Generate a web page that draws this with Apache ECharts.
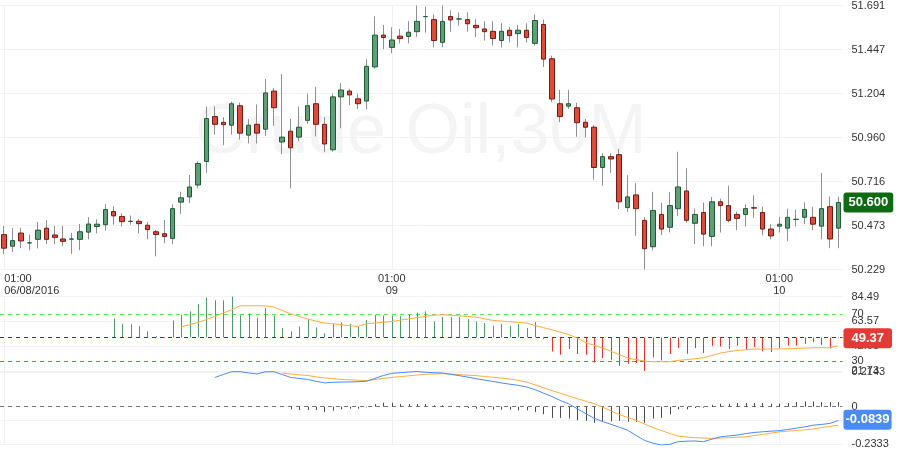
<!DOCTYPE html>
<html><head><meta charset="utf-8">
<script src="https://cdn.jsdelivr.net/npm/echarts@6/dist/echarts.min.js"></script>
<style>html,body{margin:0;padding:0;background:#fff}#c{width:900px;height:451px}</style>
</head><body><div id="c"></div>
<script>
// ---- categories (30-minute bars, 01:00 .. 23:30 each day) ----
const dayLabels = ['06/08/2016', '09', '10'];
const dayCounts = [46, 46, 8];
const catTime = [], catDay = [];
dayLabels.forEach((d, di) => {
  for (let k = 0; k < dayCounts[di]; k++) {
    const h = 1 + Math.floor(k / 2);
    catTime.push(String(h).padStart(2, '0') + ':' + (k % 2 ? '30' : '00'));
    catDay.push(d);
  }
});
const categories = catTime.map((t, i) => catDay[i] + ' ' + t);

// ---- price candles: [open, close, low, high] ----
const candles = [
[50.422,50.347,50.313,50.470],[50.358,50.389,50.326,50.458],[50.431,50.387,50.347,50.460],[50.376,50.377,50.336,50.422],
[50.396,50.447,50.346,50.492],[50.458,50.396,50.369,50.503],[50.420,50.407,50.369,50.470],[50.398,50.385,50.358,50.470],
[50.397,50.398,50.315,50.432],[50.396,50.438,50.336,50.481],[50.436,50.481,50.396,50.519],[50.467,50.480,50.429,50.507],
[50.477,50.561,50.445,50.590],[50.550,50.526,50.477,50.579],[50.523,50.494,50.467,50.541],[50.495,50.496,50.477,50.528],
[50.496,50.483,50.429,50.508],[50.474,50.450,50.396,50.492],[50.438,50.423,50.302,50.449],[50.427,50.412,50.374,50.503],
[50.401,50.566,50.369,50.590],[50.602,50.626,50.537,50.660],[50.631,50.686,50.597,50.752],[50.697,50.816,50.678,50.828],
[50.827,51.065,50.765,51.132],[51.076,51.033,50.976,51.132],[51.044,51.031,50.917,51.073],[51.028,51.147,50.976,51.159],
[51.136,50.984,50.949,51.154],[50.973,51.028,50.928,51.062],[51.033,50.984,50.928,51.143],[51.006,51.207,50.968,51.284],
[51.217,51.125,51.025,51.234],[50.935,50.962,50.868,51.311],[50.995,50.903,50.678,51.062],[50.962,51.017,50.939,51.132],
[51.055,51.136,51.035,51.203],[51.147,51.033,50.966,51.241],[51.033,50.924,50.879,51.073],[50.892,51.185,50.881,51.203],
[51.185,51.223,51.011,51.262],[51.217,51.196,51.139,51.230],[51.174,51.147,51.118,51.203],[51.162,51.354,51.116,51.393],
[51.351,51.527,51.340,51.631],[51.527,51.514,51.449,51.583],[51.459,51.500,51.427,51.570],[51.521,51.508,51.481,51.561],
[51.519,51.543,51.481,51.604],[51.546,51.603,51.517,51.691],[51.629,51.630,51.541,51.685],[51.613,51.497,51.459,51.642],
[51.487,51.603,51.459,51.691],[51.630,51.611,51.546,51.664],[51.616,51.617,51.579,51.653],[51.613,51.590,51.546,51.653],
[51.581,51.568,51.517,51.615],[51.561,51.546,51.497,51.604],[51.548,51.508,51.470,51.604],[51.497,51.548,51.459,51.593],
[51.554,51.524,51.487,51.572],[51.535,51.554,51.459,51.583],[51.554,51.514,51.487,51.593],[51.481,51.608,51.470,51.642],
[51.586,51.394,51.351,51.613],[51.396,51.173,51.156,51.413],[51.147,51.076,51.045,51.224],[51.134,51.147,51.118,51.224],
[51.125,51.042,50.964,51.152],[51.044,51.017,50.960,51.062],[51.017,50.794,50.727,51.029],[50.794,50.854,50.693,50.872],
[50.854,50.841,50.765,50.872],[50.865,50.604,50.564,50.897],[50.572,50.631,50.548,50.751],[50.642,50.566,50.416,50.707],
[50.501,50.344,50.229,50.519],[50.355,50.556,50.336,50.659],[50.534,50.453,50.420,50.599],[50.463,50.583,50.434,50.659],
[50.566,50.686,50.526,50.881],[50.664,50.501,50.488,50.790],[50.485,50.534,50.369,50.566],[50.545,50.425,50.358,50.599],
[50.412,50.604,50.358,50.631],[50.604,50.583,50.434,50.621],[50.583,50.501,50.490,50.693],[50.534,50.512,50.447,50.550],
[50.534,50.566,50.467,50.590],[50.571,50.569,50.515,50.639],[50.545,50.453,50.418,50.577],[50.453,50.415,50.396,50.480],
[50.469,50.480,50.434,50.519],[50.458,50.518,50.385,50.566],[50.506,50.507,50.467,50.561],[50.518,50.561,50.480,50.601],
[50.518,50.480,50.447,50.577],[50.469,50.566,50.396,50.763],[50.577,50.398,50.347,50.633],[50.458,50.600,50.347,50.633]
];

// ---- RSI panel ----
const rsi = [
null,null,null,null,null,null,null,null,null,null,null,null,null,
66.1,61.2,61.2,59.6,55.1,51.1,49.5,64.4,69.1,72.0,78.1,83.9,81.5,81.5,84.49,68.6,70.3,66.9,74.8,68.6,58.1,55.1,59.3,65.5,58.5,53.4,
61.5,62.7,61.5,59.0,64.9,69.1,68.6,68.6,68.0,69.4,71.1,72.0,63.5,67.3,67.2,67.2,65.5,63.5,62.2,59.9,61.3,59.9,61.3,57.9,63.0,
48.6,38.2,35.4,40.2,36.0,35.4,28.9,32.6,31.2,26.1,27.8,28.4,21.73,33.1,30.6,36.0,41.0,36.2,41.0,36.8,43.0,42.4,40.2,43.0,39.6,
41.9,38.2,37.7,41.0,43.2,43.2,44.7,46.1,43.8,40.7,49.37
];
const rsiMA = [
null,null,null,null,null,null,null,null,null,null,null,null,null,null,null,null,null,null,null,null,null,
59.0,60.8,62.7,65.2,67.8,70.6,73.4,76.8,76.8,76.8,76.8,75.7,72.8,70.0,67.8,65.6,63.9,62.2,61.6,60.8,59.9,59.3,
61.6,62.2,62.9,63.5,64.6,65.8,66.8,67.8,68.9,69.2,68.8,68.3,67.8,67.2,65.8,64.4,63.9,63.3,62.8,62.2,60.1,58.3,
56.5,54.5,52.5,49.5,45.8,43.4,41.0,38.5,35.5,32.6,31.3,30.0,29.5,29.5,29.5,30.6,31.3,32.0,32.8,34.8,36.8,38.0,
39.0,39.6,40.2,40.2,40.2,40.4,40.5,40.7,41.0,41.3,41.3,41.3,43.0
];
const rsiTicks = [21.73, 42.65, 63.57, 84.49];
const rsiLevels = [70, 50, 30];

// ---- MACD panel ----
const macd = [
null,null,null,null,null,null,null,null,null,null,null,null,null,null,null,null,null,null,null,null,null,null,null,null,null,
0.178,0.196,0.213,0.213,0.206,0.199,0.213,0.213,0.196,0.178,0.172,0.166,0.155,0.145,0.148,0.150,0.151,0.152,0.155,0.172,
0.190,0.203,0.207,0.211,0.2143,0.210,0.207,0.205,0.197,0.189,0.180,0.171,0.162,0.154,0.145,0.137,0.130,0.120,0.104,0.083,
0.062,0.038,0.018,-0.012,-0.042,-0.070,-0.090,-0.107,-0.125,-0.143,-0.175,-0.205,-0.222,-0.2333,-0.229,-0.213,-0.210,
-0.209,-0.213,-0.198,-0.183,-0.178,-0.173,-0.164,-0.157,-0.153,-0.149,-0.146,-0.139,-0.131,-0.123,-0.113,-0.108,-0.102,-0.0839
];
const signal = [
null,null,null,null,null,null,null,null,null,null,null,null,null,null,null,null,null,null,null,null,null,null,null,null,null,
null,null,null,null,null,null,null,null,
0.205,0.199,0.194,0.190,0.182,0.175,0.171,0.166,0.164,0.161,0.159,0.165,0.172,0.178,0.183,0.188,0.193,0.197,0.199,0.201,
0.199,0.195,0.192,0.189,0.184,0.179,0.174,0.169,0.160,0.150,0.133,0.116,0.098,0.082,0.065,0.050,0.034,0.018,-0.002,-0.025,
-0.048,-0.066,-0.083,-0.105,-0.127,-0.145,-0.163,-0.179,-0.184,-0.189,-0.191,-0.193,-0.191,-0.189,-0.186,-0.183,-0.176,
-0.169,-0.161,-0.153,-0.149,-0.145,-0.141,-0.136,-0.127,-0.120,-0.113
];
const hist = [
null,null,null,null,null,null,null,null,null,null,null,null,null,null,null,null,null,null,null,null,null,null,null,null,null,
null,null,null,null,null,null,null,null,
-0.002,-0.016,-0.020,-0.020,-0.020,-0.032,-0.024,-0.016,-0.012,-0.012,-0.004,0.016,0.024,0.024,0.016,0.016,0.016,0.016,
0.008,0.008,0.004,-0.004,-0.008,-0.012,-0.012,-0.018,-0.018,-0.018,-0.022,-0.022,-0.032,-0.046,-0.068,-0.068,-0.072,
-0.083,-0.086,-0.098,-0.092,-0.089,-0.086,-0.092,-0.092,-0.098,-0.072,-0.068,-0.046,-0.016,-0.016,-0.008,-0.006,0.012,
0.018,0.018,0.022,0.022,0.022,0.022,0.018,0.018,0.022,0.028,0.032,0.032,0.028,0.028,0.028
];
const macdRange = [-0.2333, 0.2143];
const macdGrid = [0.2143, -0.0841, -0.2333];
const mainTicks = [50.229, 50.473, 50.716, 50.960, 51.204, 51.447, 51.691];
const watermark = 'Crude Oil,30M';

// ---- styling ----
const FONT = 'Liberation Sans, Arial, sans-serif';
const GREEN_FILL = '#5e9f78', GREEN_EDGE = '#1f5a35', RED_FILL = '#dc4c3a', RED_EDGE = '#741a12', WICK = '#8f8f8f';
const GRID_L = -1.92, GRID_W = 844.4;
const TXT = {fontSize: 11, color: '#333', fontFamily: FONT};
const CLEAR = 'rgba(0,0,0,0)';

const bodies = candles.map(c => [c[0], c[1], Math.min(c[0], c[1]), Math.max(c[0], c[1])]);
const isDayStart = (i) => catTime[i] === '01:00';

function xAx(gi, showLabel) {
  return {
    type: 'category', gridIndex: gi, data: categories, boundaryGap: true,
    axisLine: {show: false}, axisTick: {show: false},
    axisLabel: showLabel ? Object.assign({
      interval: isDayStart, margin: 3, lineHeight: 12, alignMinLabel: 'left',
      formatter: (v) => { const p = v.split(' '); return p[1] + '\n' + p[0]; }
    }, TXT) : {show: false},
    splitLine: {show: true, interval: isDayStart, alignWithLabel: true, lineStyle: {color: '#f0f0f0', width: 1}}
  };
}
function stick(base, stroke) {
  return function (params, api) {
    const v = api.value(1);
    if (v == null || isNaN(v)) return;
    const p0 = api.coord([api.value(0), base]);
    const p1 = api.coord([api.value(0), v]);
    const x = Math.round(p0[0]) + 0.5;
    return {type: 'line', shape: {x1: x, y1: p0[1], x2: x, y2: p1[1]},
      style: {stroke: typeof stroke === 'function' ? stroke(v) : stroke, lineWidth: 1}};
  };
}
function badge(value, text, bg, pad) {
  return {silent: true, animation: false, z: 10,
    symbol: ['none', 'triangle'], symbolSize: [0, 8], symbolRotate: [0, 90], symbolOffset: [0, [0, -3]],
    lineStyle: {color: CLEAR, width: 1},
    itemStyle: {color: bg},
    label: {show: true, position: 'end', distance: 1, formatter: text, color: '#fff', fontWeight: 'bold',
      fontSize: 13, fontFamily: FONT, backgroundColor: bg, padding: pad, borderRadius: 3, lineHeight: 14},
    data: [{yAxis: value, itemStyle: {color: bg}}]};
}

const lastClose = candles[candles.length - 1][1];
const lastRsi = rsi[rsi.length - 1];
const lastMacd = macd[macd.length - 1];

const option = {
  animation: false,
  backgroundColor: '#fff',
  graphic: [{type: 'text', x: 421, y: 134, z: 0, silent: true,
    style: {text: watermark, fill: '#f4f4f4', font: '70px ' + FONT, textAlign: 'center', textVerticalAlign: 'middle'}}],
  grid: [
    {left: GRID_L, width: GRID_W, top: 0, height: 269.5},
    {left: GRID_L, width: GRID_W, top: 296.7, height: 74.2},
    {left: GRID_L, width: GRID_W, top: 371.5, height: 73.5}
  ],
  xAxis: [xAx(0, true), xAx(1, false), xAx(2, false)],
  yAxis: [
    {type: 'value', gridIndex: 0, position: 'right', min: mainTicks[0], max: mainTicks[mainTicks.length - 1],
      interval: (mainTicks[mainTicks.length - 1] - mainTicks[0]) / (mainTicks.length - 1),
      axisLine: {show: false}, axisTick: {show: false},
      axisLabel: Object.assign({margin: 9, formatter: v => v.toFixed(3)}, TXT),
      splitLine: {lineStyle: {color: '#f2f2f2'}}},
    {type: 'value', gridIndex: 1, position: 'right', min: rsiTicks[0], max: rsiTicks[rsiTicks.length - 1],
      interval: (rsiTicks[rsiTicks.length - 1] - rsiTicks[0]) / (rsiTicks.length - 1),
      axisLine: {show: false}, axisTick: {show: false},
      axisLabel: Object.assign({margin: 9, formatter: v => v.toFixed(2)}, TXT),
      splitLine: {lineStyle: {color: '#f2f2f2'}}},
    {type: 'value', gridIndex: 2, position: 'right', min: macdRange[0], max: macdRange[1],
      axisLine: {show: false}, axisTick: {show: false}, axisLabel: {show: false}, splitLine: {show: false}}
  ],
  series: [
    {type: 'candlestick', name: 'wick', xAxisIndex: 0, yAxisIndex: 0, data: candles, barWidth: 1, silent: true, z: 2,
      itemStyle: {color: WICK, color0: WICK, borderColor: WICK, borderColor0: WICK, borderWidth: 1}},
    {type: 'candlestick', name: 'body', xAxisIndex: 0, yAxisIndex: 0, data: bodies, barWidth: 5, silent: true, z: 3,
      itemStyle: {color: GREEN_FILL, color0: RED_FILL, borderColor: GREEN_EDGE, borderColor0: RED_EDGE, borderWidth: 1},
      markLine: badge(lastClose, lastClose.toFixed(3), '#0f6b12', [3, 5])},
    {type: 'custom', name: 'rsi', xAxisIndex: 1, yAxisIndex: 1, silent: true, z: 3,
      data: rsi.map((v, i) => [i, v == null ? NaN : v]),
      renderItem: stick(50, v => v >= 50 ? '#4f9a68' : '#e8312c'),
      markLine: {silent: true, symbol: 'none', animation: false, z: 2,
        data: [
          {yAxis: rsiLevels[0], lineStyle: {color: '#55e655', type: [4, 4], width: 1},
            label: Object.assign({show: true, position: 'end', distance: 9, formatter: String(rsiLevels[0])}, TXT)},
          {yAxis: rsiLevels[1], lineStyle: {color: '#2a2ae6', type: [4, 4], width: 1}, label: {show: false}},
          {yAxis: rsiLevels[2], lineStyle: {color: '#f04b4b', type: [4, 4], width: 1},
            label: Object.assign({show: true, position: 'end', distance: 9, formatter: String(rsiLevels[2])}, TXT)}
        ]}},
    {type: 'line', name: 'rsiMA', xAxisIndex: 1, yAxisIndex: 1, data: rsiMA, showSymbol: false, silent: true, z: 4,
      lineStyle: {color: '#ffab40', width: 1},
      markLine: badge(lastRsi, lastRsi.toFixed(2), '#e53935', [3, 8])},
    {type: 'custom', name: 'hist', xAxisIndex: 2, yAxisIndex: 2, silent: true, z: 3,
      data: hist.map((v, i) => [i, v == null ? NaN : v]),
      renderItem: stick(0, '#4a4a4a'),
      markLine: {silent: true, symbol: 'none', animation: false, z: 1,
        data: [
          {yAxis: macdGrid[0], lineStyle: {color: '#f2f2f2', type: 'solid', width: 1},
            label: Object.assign({show: true, position: 'end', distance: 9, formatter: macdGrid[0].toFixed(4)}, TXT)},
          {yAxis: macdGrid[1], lineStyle: {color: '#f2f2f2', type: 'solid', width: 1}, label: {show: false}},
          {yAxis: macdGrid[2], lineStyle: {color: '#f2f2f2', type: 'solid', width: 1},
            label: Object.assign({show: true, position: 'end', distance: 9, formatter: macdGrid[2].toFixed(4)}, TXT)},
          {yAxis: 0, lineStyle: {color: '#777', type: [4, 4], width: 1},
            label: Object.assign({show: true, position: 'end', distance: 9, formatter: '0'}, TXT)}
        ]}},
    {type: 'line', name: 'signal', xAxisIndex: 2, yAxisIndex: 2, data: signal, showSymbol: false, silent: true, z: 4,
      lineStyle: {color: '#ffab40', width: 1}},
    {type: 'line', name: 'macd', xAxisIndex: 2, yAxisIndex: 2, data: macd, showSymbol: false, silent: true, z: 5,
      lineStyle: {color: '#4a8af4', width: 1},
      markLine: badge(lastMacd, lastMacd.toFixed(4), '#4a8af4', [3, 2])}
  ]
};
const chart = echarts.init(document.getElementById('c'), null, {renderer: 'canvas'});
chart.setOption(option);
</script>
</body></html>
